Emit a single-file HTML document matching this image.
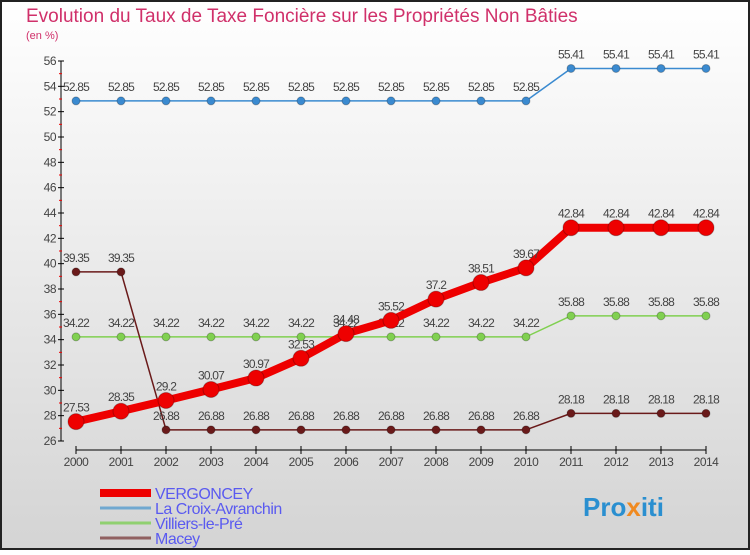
<!DOCTYPE html>
<html><head><meta charset="utf-8"><style>
html,body{margin:0;padding:0}
body{width:750px;height:550px;overflow:hidden;font-family:"Liberation Sans",sans-serif}
</style></head><body>
<svg id="chart" width="750" height="550" xmlns="http://www.w3.org/2000/svg">
<defs><linearGradient id="bg" x1="0" y1="0" x2="0" y2="1"><stop offset="0" stop-color="#ffffff"/><stop offset="1" stop-color="#d4d4d4"/></linearGradient></defs>
<rect x="1" y="1" width="748" height="548" fill="url(#bg)" stroke="#222" stroke-width="2"/>
<text x="26" y="22" font-size="19" fill="#d0306a">Evolution du Taux de Taxe Foncière sur les Propriétés Non Bâties</text>
<text x="26" y="39" font-size="11" fill="#d0306a">(en %)</text>
<g id="axes"></g>
<g id="series"></g>
<g id="legend"></g>
<text x="583" y="516" font-size="26" font-weight="bold" fill="#2a8fd0">Pro<tspan fill="#f08a20">x</tspan>iti</text>
</svg>
<script>
const years=[2000,2001,2002,2003,2004,2005,2006,2007,2008,2009,2010,2011,2012,2013,2014];
const vergoncey=[27.53,28.35,29.2,30.07,30.97,32.53,34.48,35.52,37.2,38.51,39.67,42.84,42.84,42.84,42.84];
const croix=[52.85,52.85,52.85,52.85,52.85,52.85,52.85,52.85,52.85,52.85,52.85,55.41,55.41,55.41,55.41];
const villiers=[34.22,34.22,34.22,34.22,34.22,34.22,34.22,34.22,34.22,34.22,34.22,35.88,35.88,35.88,35.88];
const macey=[39.35,39.35,26.88,26.88,26.88,26.88,26.88,26.88,26.88,26.88,26.88,28.18,28.18,28.18,28.18];
const yTicks=[26,28,30,32,34,36,38,40,42,44,46,48,50,52,54,56];
const NS="http://www.w3.org/2000/svg";
const X=i=>76+i*45, Y=v=>441-(v-26)*380/30;
function mk(tag,attrs,parent){const e=document.createElementNS(NS,tag);for(const k in attrs)e.setAttribute(k,attrs[k]);parent.appendChild(e);return e;}
const ax=document.getElementById('axes'), sg=document.getElementById('series'), lg=document.getElementById('legend');
let l=mk('line',{x1:61,y1:61,x2:61,y2:441,stroke:'#000'},ax);


l=mk('line',{x1:76,y1:450,x2:706,y2:450,stroke:'#000'},ax);


yTicks.forEach(v=>{
  mk('line',{x1:58,y1:Y(v),x2:64,y2:Y(v),stroke:'#000'},ax);
  if(v<56)mk('line',{x1:59,y1:Y(v+1),x2:62,y2:Y(v+1),stroke:'#e00'},ax);
  const t=mk('text',{x:56,y:Y(v)+4,'font-size':12,fill:'#444','text-anchor':'end','letter-spacing':'-0.5'},ax);
  t.textContent=v;
  
  
});
years.forEach((yr,i)=>{
  mk('line',{x1:X(i),y1:446,x2:X(i),y2:454,stroke:'#000'},ax);
  const t=mk('text',{x:X(i),y:466,'font-size':12,fill:'#444','text-anchor':'middle','letter-spacing':'-0.5'},ax);
  t.textContent=yr;
  
  
});
function draw(name,vals,color,w,r,lblColor){
  const g=mk('g',{},sg);
  
  
  const p=mk('polyline',{points:vals.map((v,i)=>X(i)+','+Y(v)).join(' '),fill:'none',stroke:color,'stroke-width':w,'stroke-linejoin':'round'},g);
  
  
  vals.forEach((v,i)=>{
    const c=mk('circle',{cx:X(i),cy:Y(v),r:r,fill:color,stroke:'rgba(0,0,0,0.25)','stroke-width':1},g);
    
    
    const t=mk('text',{x:X(i),y:Y(v)-10,'font-size':12,fill:'#444','text-anchor':'middle','letter-spacing':'-0.8'},g);
    t.textContent=v;
    
    
  });
}
draw('croix',croix,'#3a8ad0',1.5,4);
draw('villiers',villiers,'#80d050',1.5,4);
draw('macey',macey,'#6a1a1a',1.5,4);
draw('vergoncey',vergoncey,'#ee0000',8,8);
const leg=[['VERGONCEY','#ee0000',8],['La Croix-Avranchin','#70a8d0',3],['Villiers-le-Pré','#90d070',3],['Macey','#906060',3]];
leg.forEach((e,i)=>{
  const y=493+i*15;
  const g=mk('g',{},lg);
  
  
  mk('line',{x1:100,y1:y,x2:151,y2:y,stroke:e[1],'stroke-width':e[2]},g);
  const t=mk('text',{x:155,y:y+6,'font-size':16,fill:'#5a5af0','letter-spacing':'-0.5'},g);
  t.textContent=e[0];
});
</script>
</body></html>
